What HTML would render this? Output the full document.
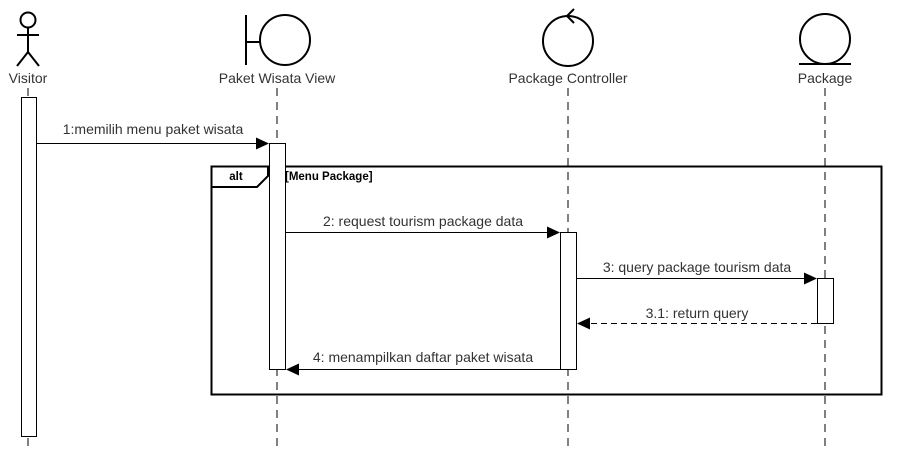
<!DOCTYPE html>
<html><head><style>body{margin:0;background:#fff}svg{display:block}text{font-family:"Liberation Sans",Arial,sans-serif;font-size:14px;fill:#333}</style></head><body>
<svg width="906" height="451" viewBox="0 0 906 451" xmlns="http://www.w3.org/2000/svg">
<g stroke="#000" fill="none">
<g stroke-dasharray="8,6" stroke-width="1">
<line x1="28" y1="88" x2="28" y2="451"/>
<line x1="277" y1="88" x2="277" y2="451"/>
<line x1="568" y1="88" x2="568" y2="451"/>
<line x1="825" y1="88" x2="825" y2="451"/>
</g>
<g stroke-width="2">
<circle cx="28" cy="20" r="7.5" fill="#fff"/>
<line x1="28" y1="27.5" x2="28" y2="52"/>
<line x1="17" y1="35" x2="39" y2="35"/>
<line x1="28" y1="52" x2="17" y2="66"/>
<line x1="28" y1="52" x2="39" y2="66"/>
<line x1="246" y1="15" x2="246" y2="65"/>
<line x1="246" y1="42" x2="260" y2="42"/>
<circle cx="285" cy="40" r="25" fill="#fff"/>
<circle cx="568" cy="41" r="25" fill="#fff"/>
<polyline points="574,9 567,16 574,23"/>
<circle cx="825" cy="39" r="25" fill="#fff"/>
<line x1="799" y1="64" x2="851" y2="64"/>
</g>
<rect x="211.5" y="166.5" width="670" height="228" stroke-width="2"/>
<polyline points="211,187 257,187 268,176 268,166" stroke-width="2"/>
<rect x="21.5" y="97.5" width="15" height="339" fill="#fff"/>
<rect x="269.5" y="143.5" width="16" height="226" fill="#fff"/>
<rect x="560.5" y="232.5" width="16" height="137" fill="#fff"/>
<rect x="817.5" y="278.5" width="16" height="45" fill="#fff"/>
<line x1="37" y1="143.5" x2="256" y2="143.5"/>
<line x1="286" y1="232.5" x2="547" y2="232.5"/>
<line x1="577" y1="278.5" x2="804" y2="278.5"/>
<line x1="817" y1="323.5" x2="590" y2="323.5" stroke-dasharray="6,4"/>
<line x1="560" y1="369.5" x2="299" y2="369.5"/>
</g>
<g fill="#000">
<polygon points="269,143.5 256,137.5 256,149.5"/>
<polygon points="560,232.5 547,226.5 547,238.5"/>
<polygon points="817,278.5 804,272.5 804,284.5"/>
<polygon points="577,323.5 590,317.5 590,329.5"/>
<polygon points="286,369.5 299,363.5 299,375.5"/>
</g>
<text x="28" y="83" text-anchor="middle">Visitor</text>
<text x="277" y="83" text-anchor="middle">Paket Wisata View</text>
<text x="568" y="83" text-anchor="middle">Package Controller</text>
<text x="825" y="83" text-anchor="middle">Package</text>
<text x="153" y="134" text-anchor="middle">1:memilih menu paket wisata</text>
<text x="423" y="226" text-anchor="middle">2: request tourism package data</text>
<text x="697" y="272" text-anchor="middle">3: query package tourism data</text>
<text x="697" y="318" text-anchor="middle">3.1: return query</text>
<text x="423" y="362" text-anchor="middle">4: menampilkan daftar paket wisata</text>
<text x="236" y="180" text-anchor="middle" style="font-size:11.5px;font-weight:bold;fill:#000">alt</text>
<text x="285" y="180" style="font-size:11.5px;font-weight:bold;fill:#000">[Menu Package]</text>
</svg>
</body></html>
